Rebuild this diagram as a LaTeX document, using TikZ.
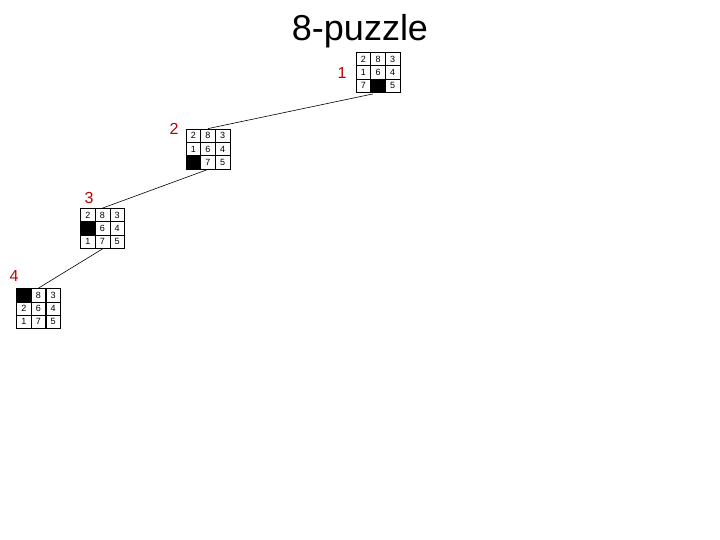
\documentclass[tikz,border=0pt]{standalone}
\usepackage{fontspec}
\setmainfont{Liberation Sans}
\usepackage{xcolor}
\usepackage{tikz}
\usetikzlibrary{matrix,positioning}
\definecolor{labelred}{RGB}{192,0,0}

\begin{document}
\begin{tikzpicture}[
    x=1pt, y=-1pt,
    board/.style={matrix of nodes, nodes in empty cells, inner sep=0pt, outer sep=0pt,
        column sep=-0.6pt, row sep=-0.6pt,
        nodes={draw, line width=0.6pt, anchor=center, minimum width=14.6pt, minimum height=13.4pt,
               inner sep=0pt, font=\fontsize{9}{9}\selectfont}},
    blank/.style={fill=black},
    steplabel/.style={text=labelred, font=\fontsize{16}{16}\selectfont},
    edge/.style={line width=0.6pt}
]
\useasboundingbox (0,0) rectangle (720,540);
\node[font=\fontsize{36}{36}\selectfont] (title) at (360,31) {8-puzzle};

\matrix[board] (b1) at (378,72.5) {2 & 8 & 3\\ 1 & 6 & 4\\ 7 & |[blank]| & 5\\};
\matrix[board] (b2) at (208,149) {2 & 8 & 3\\ 1 & 6 & 4\\ |[blank]| & 7 & 5\\};
\matrix[board] (b3) at (102.5,228.5) {2 & 8 & 3\\ |[blank]| & 6 & 4\\ 1 & 7 & 5\\};
\matrix[board] (b4) at (38.5,308.5) {|[blank]| & 8 & 3\\ 2 & 6 & 4\\ 1 & 7 & 5\\};

% step numbers
\node[steplabel] (n1) at (342,73) {1};
\node[steplabel] (n2) at (174,129) {2};
\node[steplabel] (n3) at (89,198) {3};
\node[steplabel] (n4) at (14,276) {4};

\draw[edge] (b1.south) ++(-5,1) -- (b2.north);
\draw[edge] (b2.south) -- (b3.north);
\draw[edge] (b3.south) -- (b4.north);
\end{tikzpicture}
\end{document}
